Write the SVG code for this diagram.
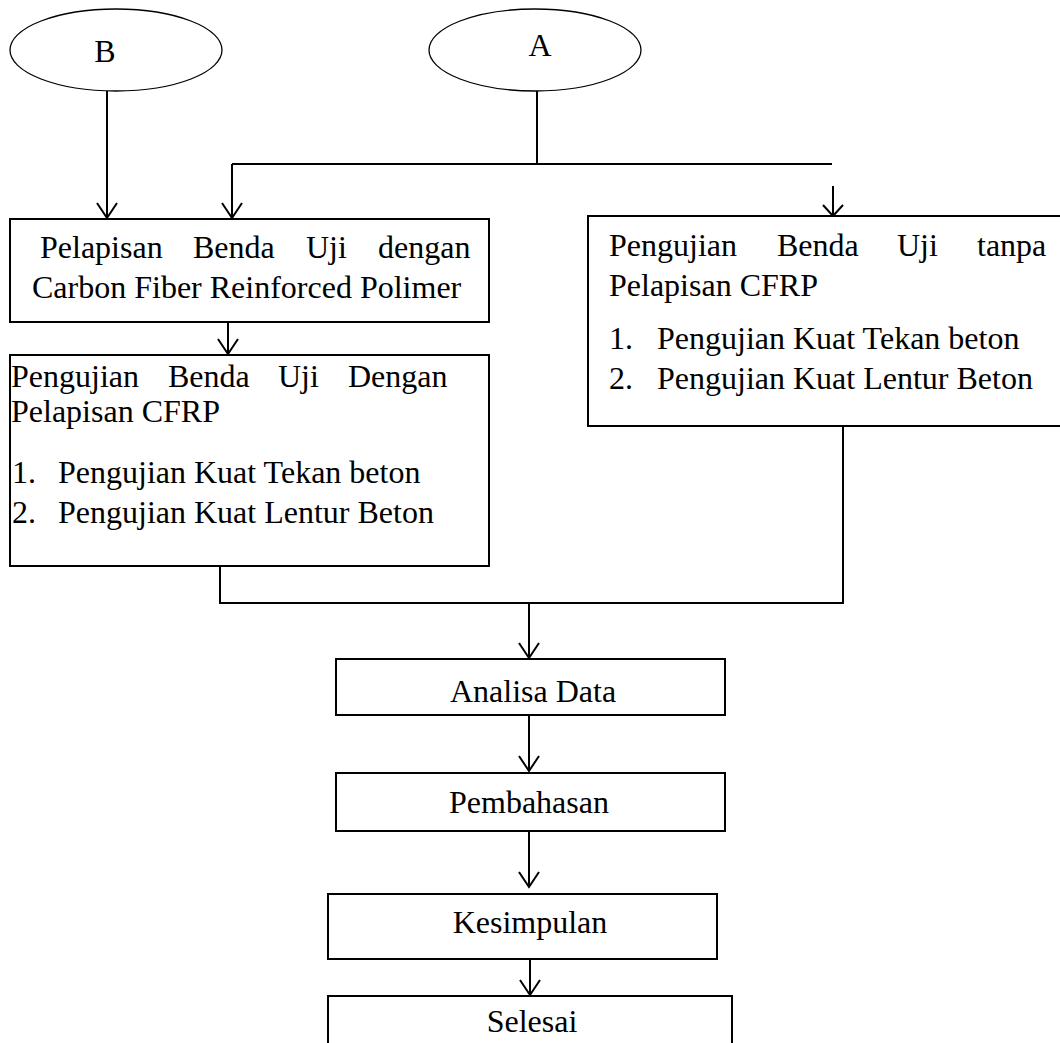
<svg xmlns="http://www.w3.org/2000/svg" width="1060" height="1043" viewBox="0 0 1060 1043">
<style>
.bg{fill:#fff}
.box{fill:#fff;stroke:#000;stroke-width:2}
.ell{fill:#fff;stroke:#000;stroke-width:1.3}
.ln{fill:none;stroke:#000;stroke-width:2}
text{font-family:"Liberation Serif","Times New Roman",serif;font-size:32px;fill:#000}
.c{text-anchor:middle}
</style>
<defs>
<marker id="arr" markerUnits="userSpaceOnUse" markerWidth="24" markerHeight="24" viewBox="-16 -12 18 24" refX="0" refY="0" orient="auto">
<path d="M-15,-10 L0,0 L-15,10" fill="none" stroke="#000" stroke-width="2"/>
</marker>
<marker id="arrs" markerUnits="userSpaceOnUse" markerWidth="24" markerHeight="24" viewBox="-16 -12 18 24" refX="0" refY="0" orient="auto">
<path d="M-11,-10 L0,0 L-11,10" fill="none" stroke="#000" stroke-width="2"/>
</marker>
</defs>
<rect class="bg" x="0" y="0" width="1060" height="1043"/>

<g id="connectors">
<path class="ln" d="M107,91 V218" marker-end="url(#arr)"/>
<path class="ln" d="M537,91 V164"/>
<path class="ln" d="M232,164 H832"/>
<path class="ln" d="M232,164 V218" marker-end="url(#arr)"/>
<path class="ln" d="M833,186 V216" marker-end="url(#arrs)"/>
<path class="ln" d="M228,322 V354" marker-end="url(#arr)"/>
<path class="ln" d="M220,563 V603 H843 V426"/>
<path class="ln" d="M529,603 V658" marker-end="url(#arr)"/>
<path class="ln" d="M529,715 V771" marker-end="url(#arr)"/>
<path class="ln" d="M529,831 V887" marker-end="url(#arr)"/>
<path class="ln" d="M530,959 V995" marker-end="url(#arr)"/>
</g>

<g id="node-b">
<ellipse class="ell" cx="116" cy="50" rx="106" ry="41"/>
<text x="105" y="62" class="c">B</text>
</g>

<g id="node-a">
<ellipse class="ell" cx="535" cy="50" rx="106" ry="41"/>
<text x="540" y="56" class="c">A</text>
</g>

<g id="node-pelapisan">
<rect class="box" x="10" y="219" width="479" height="103"/>
<text x="40" y="258">Pelapisan</text>
<text x="193" y="258">Benda</text>
<text x="306" y="258">Uji</text>
<text x="378" y="258">dengan</text>
<text x="32" y="298">Carbon Fiber Reinforced Polimer</text>
</g>

<g id="node-uji-dengan">
<rect class="box" x="10" y="355" width="479" height="211"/>
<text x="11" y="387">Pengujian</text>
<text x="168" y="387">Benda</text>
<text x="278" y="387">Uji</text>
<text x="348" y="387">Dengan</text>
<text x="11" y="422">Pelapisan CFRP</text>
<text x="12" y="483">1.</text>
<text x="58" y="483">Pengujian Kuat Tekan beton</text>
<text x="12" y="523">2.</text>
<text x="58" y="523">Pengujian Kuat Lentur Beton</text>
</g>

<g id="node-uji-tanpa">
<rect class="box" x="588" y="216" width="490" height="210"/>
<text x="609" y="256">Pengujian</text>
<text x="777" y="256">Benda</text>
<text x="897" y="256">Uji</text>
<text x="977" y="256">tanpa</text>
<text x="609" y="296">Pelapisan CFRP</text>
<text x="609" y="349">1.</text>
<text x="657" y="349">Pengujian Kuat Tekan beton</text>
<text x="609" y="389">2.</text>
<text x="657" y="389">Pengujian Kuat Lentur Beton</text>
</g>

<g id="node-analisa">
<rect class="box" x="336" y="659" width="389" height="56"/>
<text x="533" y="702" class="c">Analisa Data</text>
</g>

<g id="node-pembahasan">
<rect class="box" x="336" y="773" width="389" height="58"/>
<text x="529" y="813" class="c">Pembahasan</text>
</g>

<g id="node-kesimpulan">
<rect class="box" x="328" y="894" width="389" height="65"/>
<text x="530" y="933" class="c">Kesimpulan</text>
</g>

<g id="node-selesai">
<rect class="box" x="328" y="996" width="404" height="60"/>
<text x="532" y="1032" class="c">Selesai</text>
</g>
</svg>
